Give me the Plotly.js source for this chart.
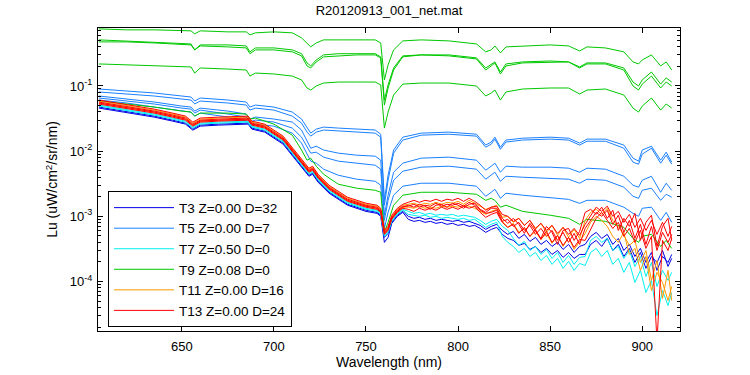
<!DOCTYPE html>
<html><head><meta charset="utf-8">
<script src="https://cdn.plot.ly/plotly-3.0.1.min.js"></script>
<style>html,body{margin:0;padding:0;background:#fff}#chart{width:750px;height:375px}</style>
</head><body><div id="chart"></div>
<script>
// wavelength grids (nm)
const wlSmooth = [605,620,635,650,655,657,660,675,685,687,690,700,710,715,718,720,723,727,735,745,755,758,760,762,765,770,780,795,810,815,818,820,823,826,835,850,860,866,870,880,890,895,898,900,905,910,913,916];
const wlBundle = [605,615,625,635,645,652,656,660,670,680,686,688,695,705,712,716,719,721,724,730,740,750,756,758,760,762,764,767,770,773,776,779,782,785,788,791,794,797,800,803,806,809,812,815,818,821,824,827,830,833,836,839,842,845,848,851,854,857,860,863,866,869,872,875,878,881,884,887,890,893,896,899,902,905,908,911,914,916];

// T3 (dark blue)
const T3_a = [.0458,.0412,.0371,.0333,.0289,.0260,.0210,.0242,.0251,.0260,.0260,.0218,.0196,.0128,.00726,.00510,.00412,.00442,.00333,.00226,.00148,.00119,.00111,.00100,.000398,.000475,.000780,.00100,.00115,
 .000899,.000837,.000867,.000808,.000837,.000780,.000808,.000753,.000780,.000726,.000753,.000701,.000726,.000653,.000567,.000630,.000677,.000528,.000458,.000427,.000358,.000384,.000310,.000345,.000279,.000322,.000260,.000299,.000234,.000279,.000226,.000260,.000260,.000371,.000427,.000345,.000458,.000299,.000371,.000242,.000322,.000196,.000279,.000159,.000242,.000196,.000299,.000170,.000226];
const T3_b = [.0475,.0427,.0384,.0345,.0299,.0269,.0218,.0251,.0260,.0269,.0269,.0226,.0203,.0133,.00753,.00528,.00427,.00458,.00345,.00234,.00153,.00124,.00115,.00104,.000475,.000547,.000808,.00104,.00119,
 .00100,.000931,.000965,.000899,.000931,.000867,.000899,.000867,.000837,.000867,.000808,.000837,.000780,.000726,.000630,.000701,.000753,.000608,.000528,.000587,.000458,.000528,.000412,.000475,.000371,.000427,.000345,.000398,.000310,.000371,.000279,.000345,.000371,.000492,.000567,.000458,.000528,.000371,.000458,.000299,.000371,.000242,.000322,.000196,.000279,.000148,.000242,.000196,.000260];

// T5 (blue)
const T5_a = [.0899,.0838,.0781,.0702,.0677,.0588,.0654,.0609,.0568,.0475,.0510,.0475,.0398,.0311,.0226,.0189,.0218,.0234,.0226,.0218,.0211,.0182,.00176,.00427,.0104,.0164,.0189,.0196,.0182,.0124,.0138,.0164,.0115,.0148,.0158,.0164,.0158,.0133,.0153,.0153,.0124,.00781,.00702,.0104,.0119,.00727,.00965,.00677];
const T5_b = [.0809,.0753,.0702,.0631,.0609,.0529,.0588,.0548,.0510,.0427,.0458,.0427,.0345,.0270,.0196,.0170,.0196,.0211,.0203,.0196,.0189,.0164,.00148,.00358,.00932,.0148,.0176,.0182,.0170,.0115,.0128,.0153,.0107,.0138,.0148,.0153,.0148,.0124,.0142,.0142,.0111,.00677,.00631,.00899,.0111,.00654,.00867,.00631];
const T5_c = [.0702,.0631,.0568,.0492,.0475,.0412,.0458,.0412,.0371,.0311,.0334,.0311,.0280,.0211,.0148,.0111,.0119,.0104,.00932,.00867,.00838,.00727,.00104,.00211,.00475,.00654,.00781,.00809,.00727,.00510,.00588,.00654,.00475,.00588,.00568,.00568,.00548,.00475,.00548,.00529,.00412,.00300,.00280,.00358,.00412,.00234,.00322,.00251];
const T5_d = [.0654,.0588,.0529,.0458,.0442,.0384,.0427,.0371,.0334,.0280,.0300,.0280,.0226,.0164,.0115,.00932,.00965,.00809,.00702,.00654,.00609,.00529,.000867,.00176,.00358,.00492,.00568,.00588,.00529,.00371,.00427,.00475,.00345,.00412,.00398,.00384,.00371,.00322,.00371,.00358,.00280,.00203,.00189,.00251,.00270,.00176,.00218,.00196];
const T5_e = [.0609,.0548,.0475,.0412,.0398,.0345,.0384,.0334,.0290,.0242,.0260,.0242,.0189,.0133,.00899,.00702,.00654,.00529,.00427,.00371,.00345,.00300,.000654,.00115,.00211,.00290,.00322,.00322,.00290,.00203,.00234,.00260,.00189,.00226,.00211,.00196,.00182,.00158,.00176,.00176,.00138,.00111,.00100,.00133,.00138,.000867,.00115,.000809];

// T7 (cyan)
const T7_a = [.0492,.0442,.0398,.0358,.0310,.0279,.0226,.0260,.0269,.0279,.0279,.0234,.0210,.0138,.00780,.00547,.00442,.00475,.00358,.00242,.00159,.00128,.00119,.00107,.000492,.000567,.000837,.00107,.00124,
 .00107,.00104,.00100,.00104,.000965,.00100,.000931,.000965,.000931,.000899,.000931,.000867,.000899,.000780,.000677,.000753,.000808,.000492,.000398,.000345,.000279,.000322,.000242,.000279,.000210,.000251,.000183,.000226,.000159,.000203,.000148,.000189,.000176,.000279,.000322,.000242,.000299,.000183,.000226,.000138,.000196,.0000965,.000148,.0000677,.000104,.0000299,.0000726,.0000427,.0000677];
const T7_b = [.0510,.0458,.0412,.0371,.0322,.0289,.0234,.0269,.0279,.0289,.0289,.0242,.0218,.0143,.00808,.00567,.00458,.00492,.00371,.00251,.00164,.00133,.00124,.00111,.000510,.000587,.000867,.00111,.00128,
 .00119,.00111,.00115,.00107,.00111,.00104,.00107,.00104,.00107,.00100,.00104,.00100,.000965,.000867,.000753,.000837,.000899,.000701,.000608,.000458,.000358,.000412,.000299,.000345,.000260,.000310,.000226,.000279,.000196,.000251,.000183,.000234,.000242,.000427,.000492,.000398,.000458,.000299,.000345,.000226,.000299,.000170,.000242,.000119,.000196,.0000837,.000148,.000104,.000138];

// T9 (green)
const T9_a = [0.753,0.727,0.727,0.702,0.702,0.631,0.702,0.677,0.677,0.609,0.654,0.677,0.654,0.548,0.442,0.398,0.458,0.510,0.510,0.510,0.510,0.458,0.124,0.211,0.358,0.492,0.510,0.492,0.442,0.334,0.358,0.412,0.322,0.398,0.412,0.427,0.412,0.345,0.398,0.384,0.334,0.234,0.218,0.251,0.300,0.203,0.234,0.176];
const T9_b = [.510,.492,.475,.458,.442,.358,.427,.427,.412,.334,.384,.384,.358,.313,.226,.203,.251,.300,.313,.313,.313,.280,.0609,.104,.189,.290,.300,.300,.270,.189,.218,.234,.164,.218,.234,.242,.234,.196,.226,.226,.189,.115,.100,.124,.164,.107,.133,.115];
const T9_c = [.475,.475,.458,.442,.427,.358,.412,.398,.384,.313,.358,.358,.334,.290,.203,.189,.234,.280,.290,.300,.300,.270,.0510,.0932,.176,.280,.300,.290,.260,.176,.203,.226,.153,.203,.226,.234,.234,.189,.218,.218,.176,.100,.0867,.107,.142,.0932,.115,.100];
const T9_d = [.218,.211,.203,.196,.196,.158,.189,.182,.176,.142,.158,.153,.142,.124,.0932,.0867,.100,.111,.115,.115,.115,.104,.0226,.0398,.0727,.107,.111,.111,.100,.0702,.0781,.0867,.0609,.0809,.0899,.0932,.0932,.0753,.0867,.0899,.0727,.0458,.0398,.0492,.0654,.0427,.0529,.0458];
const T9_e = [.0588,.0529,.0475,.0412,.0398,.0345,.0384,.0384,.0371,.0311,.0322,.0260,.0176,.0104,.00727,.00781,.00588,.00442,.00311,.00270,.00251,.00234,.000568,.000809,.00148,.00211,.00234,.00234,.00218,.00176,.00189,.00176,.00138,.00148,.00119,.00104,.000932,.000753,.000899,.000838,.000677,.000458,.000398,.000492,.000529,.000345,.000427,.000322];

// T11 (orange)
const T11_a = [.0587,.0528,.0475,.0427,.0371,.0333,.0269,.0310,.0322,.0333,.0333,.0279,.0251,.0164,.00931,.00653,.00528,.00567,.00427,.00289,.00189,.00153,.00143,.00128,.000587,.000677,.00100,.00128,.00148,
 .00153,.00159,.00148,.00159,.00153,.00164,.00153,.00164,.00159,.00170,.00153,.00176,.00159,.00143,.00128,.00138,.00148,.000965,.00100,.000808,.000931,.000726,.000867,.000630,.000780,.000567,.000726,.000510,.000677,.000475,.000630,.000458,.000867,.00115,.00128,.00107,.00133,.000867,.000701,.000510,.000358,.000427,.000196,.000299,.000104,.000210,.0000547,.000148,.0000510];
const T11_b = [.0547,.0492,.0442,.0398,.0345,.0310,.0251,.0289,.0299,.0310,.0310,.0260,.0234,.0153,.00867,.00608,.00492,.00528,.00398,.00269,.00176,.00143,.00133,.00119,.000547,.000630,.000931,.00119,.00138,
 .00138,.00133,.00143,.00133,.00138,.00133,.00143,.00138,.00143,.00138,.00148,.00143,.00133,.00119,.00107,.00119,.00128,.000837,.000677,.000780,.000567,.000653,.000492,.000587,.000442,.000547,.000384,.000510,.000345,.000475,.000310,.000412,.000547,.000808,.00100,.000867,.000701,.000492,.000398,.000567,.000260,.000322,.000148,.000242,.0000726,.000138,.0000965,.0000510,.0000837];

// T13 (red)
const T13_a = [.0608,.0547,.0492,.0442,.0384,.0345,.0279,.0322,.0333,.0345,.0345,.0289,.0260,.0170,.00965,.00677,.00547,.00587,.00442,.00299,.00196,.00159,.00148,.00133,.000608,.000701,.00104,.00133,.00153,
 .00164,.00176,.00164,.00176,.00170,.00183,.00170,.00183,.00176,.00189,.00170,.00189,.00170,.00148,.00124,.00138,.00143,.00107,.00100,.000837,.000931,.000726,.000867,.000653,.000780,.000608,.000726,.000547,.000677,.000528,.000653,.000510,.000753,.00100,.00138,.00119,.00143,.00100,.00119,.000808,.00107,.000677,.000931,.000608,.000867,.000528,.000808,.000492,.000701];
const T13_b = [.0567,.0510,.0458,.0412,.0358,.0322,.0260,.0299,.0310,.0322,.0322,.0269,.0242,.0159,.00899,.00630,.00510,.00547,.00412,.00279,.00183,.00148,.00138,.00124,.000567,.000653,.000965,.00124,.00143,
 .00143,.00153,.00138,.00148,.00143,.00159,.00143,.00153,.00148,.00159,.00143,.00164,.00148,.00124,.00111,.00115,.00124,.000837,.000899,.000701,.000808,.000608,.000726,.000528,.000653,.000492,.000608,.000427,.000567,.000398,.000547,.000371,.000653,.000867,.00115,.00100,.00124,.000753,.00104,.000567,.000867,.000458,.000753,.000371,.000701,.000299,.000567,.000398,.000528];
const T13_c = [.0528,.0475,.0427,.0384,.0333,.0299,.0242,.0279,.0289,.0299,.0299,.0251,.0226,.0148,.00837,.00587,.00475,.00510,.00384,.00260,.00170,.00138,.00128,.00115,.000528,.000608,.000899,.00115,.00133,
 .00128,.00119,.00133,.00124,.00133,.00124,.00138,.00128,.00138,.00128,.00143,.00133,.00143,.00115,.000965,.00107,.00115,.000808,.000677,.000753,.000547,.000677,.000492,.000630,.000442,.000587,.000398,.000510,.000358,.000475,.000333,.000442,.000427,.000630,.000931,.00115,.000867,.000653,.000808,.000492,.000653,.000398,.000608,.000322,.000492,.000012,.000427,.000299,.000458];
const T13_d = [.0547,.0492,.0442,.0398,.0345,.0310,.0251,.0289,.0299,.0310,.0310,.0260,.0234,.0153,.00867,.00608,.00492,.00528,.00398,.00269,.00176,.00143,.00133,.00119,.000547,.000630,.000931,.00119,.00138,
 .00148,.00138,.00153,.00143,.00128,.00148,.00153,.00138,.00159,.00148,.00133,.00153,.00159,.00128,.00115,.00133,.00133,.000931,.000780,.000931,.000753,.000547,.000780,.000587,.000458,.000701,.000567,.000371,.000608,.000653,.000427,.000587,.00115,.00128,.00107,.00138,.000931,.00124,.000608,.000931,.000701,.00111,.000427,.000808,.00104,.000345,.000701,.000931,.000427];

const groupNames = ['T3 Z=0.00 D=32','T5 Z=0.00 D=7','T7 Z=0.50 D=0','T9 Z=0.08 D=0','T11 Z=0.00 D=16','T13 Z=0.00 D=24'];
const groupColors = ['#0000e6','#1a80ff','#00f0f0','#00c800','#ff9900','#ff0000'];
const groupX = [wlBundle, wlSmooth, wlBundle, wlSmooth, wlBundle, wlBundle];
const groupSeries = [[T3_a,T3_b],[T5_a,T5_b,T5_c,T5_d,T5_e],[T7_a,T7_b],[T9_a,T9_b,T9_c,T9_d,T9_e],[T11_a,T11_b],[T13_a,T13_b,T13_c,T13_d]];

const traces = [];
groupSeries.forEach((list, g) => {
  list.forEach((ys, i) => {
    traces.push({
      x: groupX[g], y: ys, type: 'scatter', mode: 'lines',
      name: groupNames[g], legendgroup: groupNames[g], showlegend: i === 0,
      line: {color: groupColors[g], width: 1}, hoverinfo: 'skip'
    });
  });
});

const FONT = 'Liberation Sans, Arial, Helvetica, sans-serif';
const layout = {
  width: 750, height: 375,
  margin: {l: 98, r: 70, t: 28, b: 44, pad: 0},
  paper_bgcolor: '#fff', plot_bgcolor: '#fff',
  font: {family: FONT, size: 13, color: '#000'},
  title: {text: 'R20120913_001_net.mat', x: 0.5, xref: 'paper', y: 0.973, yref: 'container', yanchor: 'middle', font: {family: FONT, size: 13, color: '#000'}},
  showlegend: true,
  legend: {x: 0.0172, y: 0.012, xanchor: 'left', yanchor: 'bottom', bgcolor: '#fff', bordercolor: '#000', borderwidth: 1,
           font: {family: FONT, size: 13.5, color: '#000'}, itemwidth: 60, tracegroupgap: 0, traceorder: 'normal'},
  xaxis: {range: [604.5, 920.5], tickmode: 'array', tickvals: [650,700,750,800,850,900], ticktext: ['650','700','750','800','850','900'],
          ticks: 'inside', ticklen: 5, tickcolor: '#000', showline: true, linecolor: '#000', linewidth: 1, mirror: 'ticks',
          showgrid: false, zeroline: false, tickfont: {family: FONT, size: 13}, ticklabelstandoff: 3,
          title: {text: 'Wavelength (nm)', font: {family: FONT, size: 14}, standoff: 3}, automargin: false},
  yaxis: {type: 'log', range: [-4.76, -0.11], tickmode: 'array', tickvals: [1e-4, 1e-3, 1e-2, 1e-1],
          ticktext: ['10<sup>-4</sup>','10<sup>-3</sup>','10<sup>-2</sup>','10<sup>-1</sup>'],
          ticks: 'inside', ticklen: 5, tickcolor: '#000', showline: true, linecolor: '#000', linewidth: 1, mirror: 'ticks',
          showgrid: false, zeroline: false, tickfont: {family: FONT, size: 13}, ticklabelstandoff: 2,
          minor: {ticks: 'inside', ticklen: 3, tickcolor: '#000', dtick: 'D1', showgrid: false},
          title: {text: 'Lu (uW/cm<sup>2</sup>/sr/nm)', font: {family: FONT, size: 14}, standoff: 8}, automargin: false}
};

Plotly.newPlot('chart', traces, layout, {staticPlot: true, displayModeBar: false});
</script>
</body></html>
